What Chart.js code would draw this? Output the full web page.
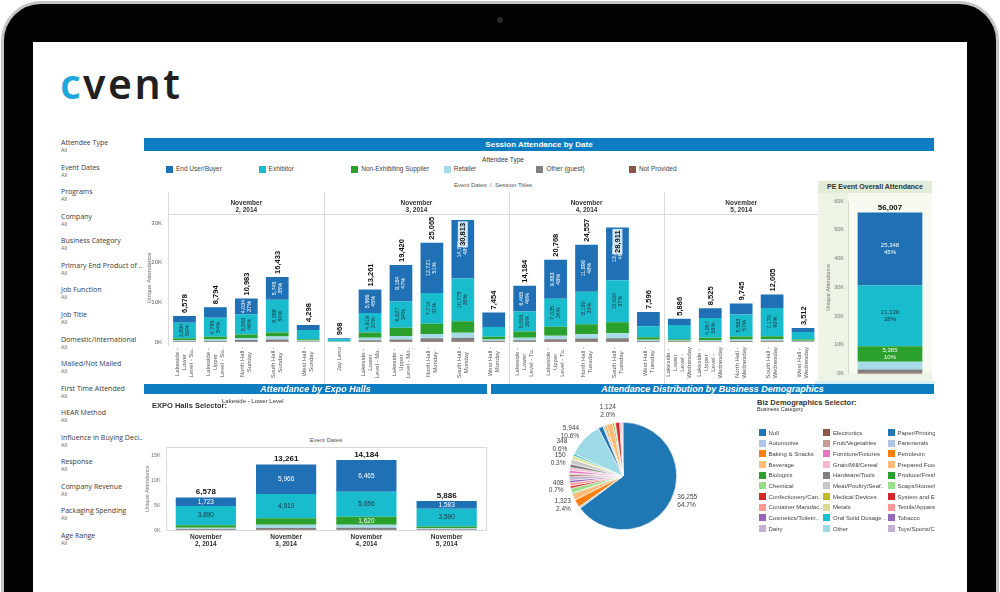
<!DOCTYPE html>
<html>
<head>
<meta charset="utf-8">
<title>Cvent attendance dashboard</title>
<script src="https://cdn.jsdelivr.net/npm/chart.js@4.4.1/dist/chart.umd.min.js"></script>
<style>
  html, body { margin:0; padding:0; background:#fff; }
  body { width:1000px; height:592px; overflow:hidden; position:relative; font-family:"Liberation Sans", Arial, sans-serif; }
  .a { position:absolute; }
  #device { left:1px; top:1px; width:992px; height:680px; background:#030303; border:3px solid #c6c6c6; border-radius:40px; }
  #screen { left:33px; top:42px; width:934px; height:560px; background:#fff; }
  #cam { left:497px; top:17px; width:6px; height:6px; border-radius:50%; background:#2a2a2a; }
  #logo { left:60px; top:63px; font:600 41px "Noto Sans", sans-serif; letter-spacing:2.5px; color:#231f20; line-height:41px; white-space:nowrap; }
  #logo span { color:#1ea7df; }
  .flt { left:61px; font-family:"Open Sans", sans-serif; color:#3a3a3a; white-space:nowrap; }
  .flt b { display:block; font-size:7px; font-weight:normal; line-height:8px; }
  .flt i { display:block; font-style:normal; font-size:5.5px; color:#666; line-height:6px; }
  .hdr { background:#0e7cc1; color:#fff; font-weight:bold; text-align:center; white-space:nowrap; }
  .txt { color:#333; white-space:nowrap; }
  .leg { font-size:6.5px; color:#444; line-height:8px; white-space:nowrap; }
  .leg s { position:absolute; left:0; top:0.5px; width:7px; height:7px; }
  .leg span { position:absolute; left:10px; top:0; }
  #pePanel { left:818px; top:181px; width:114px; height:200px; background:#edf4e6; }
  #peHead { left:818px; top:181px; width:114px; height:12px; background:#e2ecd6; font-size:7px; font-weight:bold; color:#333; text-align:center; line-height:12px; }
  #bizLegend { left:750px; top:420px; width:185px; height:130px; overflow:hidden; }
  .bl { position:absolute; font-size:6px; color:#444; line-height:8px; white-space:nowrap; }
  .bl s { position:absolute; left:0; top:0.5px; width:7px; height:7px; }
  .bl span { position:absolute; left:10px; top:0; }
</style>
</head>
<body>
<div id="device" class="a"></div>
<div id="cam" class="a"></div>
<div id="screen" class="a"></div>
<div id="logo" class="a"><span>c</span>vent</div>
<div id="filters"></div>

<div class="a hdr" style="left:144px;top:138px;width:790px;height:13px;font-size:8px;line-height:13px;">Session Attendance by Date</div>
<div class="a txt" style="left:453px;top:156px;width:100px;text-align:center;font-size:6.5px;">Attendee Type</div>
<div id="mainLegend"></div>
<div class="a txt" style="left:443px;top:182px;width:100px;text-align:center;font-size:6px;color:#555;">Event Dates&nbsp; /&nbsp; Session Titles</div>
<div class="a" style="left:140px;top:190px;width:680px;height:198px;"><canvas id="mainChart"></canvas></div>

<div id="pePanel" class="a"></div>
<div id="peHead" class="a">PE Event Overall Attendance</div>
<div class="a" style="left:818px;top:193px;width:114px;height:188px;"><canvas id="peChart"></canvas></div>
<div class="a" style="left:815px;top:381px;width:120px;height:3px;background:#d3f2f8;"></div>

<div class="a hdr" style="left:144px;top:384px;width:343px;height:10px;font-size:9px;line-height:10px;font-style:italic;">Attendance by Expo Halls</div>
<div class="a txt" style="left:152px;top:401px;font-size:7.5px;font-weight:bold;">EXPO Halls Selector:</div>
<div class="a txt" style="left:222px;top:398px;font-size:6px;">Lakeside - Lower Level</div>
<div class="a txt" style="left:276px;top:437px;width:100px;text-align:center;font-size:6px;color:#555;">Event Dates</div>
<div class="a" style="left:140px;top:436px;width:350px;height:115px;"><canvas id="expoChart"></canvas></div>

<div class="a hdr" style="left:491px;top:384px;width:443px;height:10px;font-size:9px;line-height:10px;font-style:italic;">Attendance Distribution by Business Demographics</div>
<div class="a" style="left:500px;top:400px;width:250px;height:152px;"><canvas id="pieChart"></canvas></div>
<div class="a txt" style="left:757px;top:398px;font-size:7.5px;font-weight:bold;">Biz Demographics Selector:</div>
<div class="a txt" style="left:757px;top:406px;font-size:5.5px;">Business Category</div>
<div id="bizLegend" class="a"></div>

<script>
// ---- data ----
const filterNames = ['Attendee Type', 'Event Dates', 'Programs', 'Company', 'Business Category',
  'Primary End Product of ..', 'Job Function', 'Job Title', 'Domestic/International', 'Mailed/Not Mailed',
  'First Time Attended', 'HEAR Method', 'Influence in Buying Deci..', 'Response', 'Company Revenue',
  'Packaging Spending', 'Age Range'];

const seriesNames = ['End User/Buyer', 'Exhibitor', 'Non-Exhibiting Supplier', 'Retailer', 'Other (guest)', 'Not Provided'];
const seriesColors = ['#1f70b5', '#19bccd', '#2ca02c', '#a8dbe9', '#7f7f7f', '#8c564b'];

const eventDates = [['November', '2, 2014'], ['November', '3, 2014'], ['November', '4, 2014'], ['November', '5, 2014']];
const sessionsPerDate = [5, 6, 5, 5];

const sessions = [
  ['Lakeside -', 'Lower', 'Level - Su..'], ['Lakeside -', 'Upper', 'Level - Su..'], ['North Hall -', 'Sunday'],
  ['South Hall -', 'Sunday'], ['West Hall -', 'Sunday'],
  ['Jay Leno'], ['Lakeside -', 'Lower', 'Level - Mo..'], ['Lakeside -', 'Upper', 'Level - Mo..'],
  ['North Hall -', 'Monday'], ['South Hall -', 'Monday'], ['West Hall -', 'Monday'],
  ['Lakeside -', 'Lower', 'Level - Tu..'], ['Lakeside -', 'Upper', 'Level - Tu..'], ['North Hall -', 'Tuesday'],
  ['South Hall -', 'Tuesday'], ['West Hall -', 'Tuesday'],
  ['Lakeside -', 'Lower', 'Level -', 'Wednesday'], ['Lakeside -', 'Upper', 'Level -', 'Wednesday'],
  ['North Hall -', 'Wednesday'], ['South Hall -', 'Wednesday'], ['West Hall -', 'Wednesday']
];

const endUser     = [1723, 2700, 4034, 5745, 1300, 300, 5966, 9184, 12721, 14790, 3700, 6465, 9883, 11896, 13300, 3600, 1583, 2500, 2800, 3400, 1000];
const exhibitor   = [3890, 4789, 5058, 8288, 2300, 550, 4919, 6627, 7714, 10775, 2400, 5056, 7035, 8180, 10630, 2800, 3590, 4957, 5583, 7170, 1900];
const nonExhib    = [500, 700, 900, 1000, 300, 60, 1300, 2100, 2600, 2900, 700, 1620, 2300, 2500, 2800, 650, 350, 550, 700, 700, 300];
const retailer    = [250, 350, 500, 750, 250, 40, 650, 900, 1100, 1300, 350, 600, 850, 1100, 1250, 300, 200, 300, 380, 400, 180];
const otherGuest  = [150, 200, 400, 550, 100, 15, 350, 500, 800, 900, 250, 380, 600, 750, 800, 200, 130, 180, 240, 290, 100];
const notProvided = [65, 55, 91, 100, 48, 3, 76, 109, 130, 148, 54, 63, 100, 131, 131, 46, 33, 38, 42, 45, 32];

// PE overall, same order as seriesNames
const peSeries = [25348, 21130, 5365, 2700, 1100, 364];

// Expo hall selector = Lakeside - Lower Level (one session per day)
const expoSessionIdx = [0, 6, 11, 16];

const mainTicks = [0, 10000, 20000, 30000];
const expoTicks = [0, 5000, 10000, 15000];

const bizCategories = ['Null', 'Automotive', 'Baking & Snacks', 'Beverage', 'Biologics', 'Chemical',
  'Confectionery/Can..', 'Container Manufac..', 'Cosmetics/Toiletri..', 'Dairy', 'Electronics',
  'Fruit/Vegetables', 'Furniture/Fixtures', 'Grain/Mill/Cereal', 'Hardware/Tools', 'Meat/Poultry/Seaf..',
  'Medical Devices', 'Metals', 'Oral Solid Dosage ..', 'Other', 'Paper/Printing', 'Parenterals',
  'Petroleum', 'Prepared Foods', 'Produce/Fresh Fruit', 'Soaps/Household', 'System and Equipment',
  'Textile/Apparel', 'Tobacco', 'Toys/Sports/Crafts'];
const bizValues = [36255, 300, 1323, 1100, 150, 800, 408, 500, 450, 600, 350, 250, 500, 450, 600, 800,
  150, 500, 348, 5944, 800, 300, 300, 1124, 250, 200, 700, 250, 150, 155];
const bizColors = ['#1f77b4', '#aec7e8', '#ff7f0e', '#ffbb78', '#2ca02c', '#98df8a', '#d62728', '#ff9896',
  '#9467bd', '#c5b0d5', '#8c564b', '#c49c94', '#e377c2', '#f7b6d2', '#7f7f7f', '#c7c7c7', '#bcbd22',
  '#dbdb8d', '#17becf', '#9edae5', '#1f77b4', '#aec7e8', '#ff7f0e', '#ffbb78', '#2ca02c', '#98df8a',
  '#d62728', '#ff9896', '#9467bd', '#c5b0d5'];
const bizLabeled = ['Null', 'Baking & Snacks', 'Confectionery/Can..', 'Medical Devices', 'Oral Solid Dosage ..', 'Other', 'Prepared Foods'];

// ---- helpers ----
const FONT = '"Liberation Sans", Arial, sans-serif';
Chart.defaults.font.family = FONT;
Chart.defaults.animation = false;
Chart.defaults.events = [];
Chart.defaults.plugins.legend.display = false;
Chart.defaults.plugins.tooltip.enabled = false;

const fmt = v => v.toLocaleString('en-US');
const kTick = v => (v / 1000) + 'K';
const stackOrder = [5, 4, 3, 2, 1, 0]; // bottom to top
const sessionSeries = [endUser, exhibitor, nonExhib, retailer, otherGuest, notProvided];
const sessionTotals = sessions.map((s, i) => sessionSeries.reduce((t, arr) => t + arr[i], 0));

// sidebar filters
let fHtml = '';
filterNames.forEach((n, i) => {
  fHtml += '<div class="a flt" style="top:' + (139.3 + i * 24.52).toFixed(1) + 'px"><b>' + n + '</b><i>All</i></div>';
});
document.getElementById('filters').innerHTML = fHtml;

// attendee type legend
let lHtml = '';
seriesNames.forEach((n, i) => {
  lHtml += '<div class="a leg" style="left:' + (166 + i * 92.6).toFixed(1) + 'px;top:165px"><s style="background:' +
    seriesColors[i] + '"></s><span>' + n + '</span></div>';
});
document.getElementById('mainLegend').innerHTML = lHtml;

// business category legend (column major, 10 rows)
let bHtml = '';
bizCategories.forEach((n, i) => {
  const col = Math.floor(i / 10), row = i % 10;
  bHtml += '<div class="bl" style="left:' + (8.5 + col * 64.5) + 'px;top:' + (8.5 + row * 10.67).toFixed(1) +
    'px"><s style="background:' + bizColors[i] + '"></s><span>' + n + '</span></div>';
});
document.getElementById('bizLegend').innerHTML = bHtml;

// ---- main chart plugins ----
const groupHeader = {
  id: 'groupHeader',
  afterDraw(chart) {
    const {ctx, chartArea: a, scales: {x}} = chart;
    const step = x.getPixelForValue(1) - x.getPixelForValue(0);
    ctx.save();
    ctx.strokeStyle = '#dadada';
    ctx.lineWidth = 1;
    ctx.beginPath();
    ctx.moveTo(a.left, a.top + 0.5); ctx.lineTo(a.right, a.top + 0.5);
    ctx.moveTo(Math.round(a.left) - 0.5, a.top - 22); ctx.lineTo(Math.round(a.left) - 0.5, a.bottom + 4);
    ctx.stroke();
    ctx.font = 'bold 6.5px ' + FONT;
    ctx.fillStyle = '#333';
    ctx.textAlign = 'center';
    ctx.textBaseline = 'middle';
    let start = 0;
    eventDates.forEach((d, gi) => {
      const x0 = x.getPixelForValue(start) - step / 2;
      const x1 = x.getPixelForValue(start + sessionsPerDate[gi] - 1) + step / 2;
      if (gi > 0) {
        ctx.beginPath();
        ctx.moveTo(Math.round(x0) + 0.5, a.top - 22);
        ctx.lineTo(Math.round(x0) + 0.5, chart.height - 2);
        ctx.stroke();
      }
      ctx.fillText(d[0], (x0 + x1) / 2, a.top - 11);
      ctx.fillText(d[1], (x0 + x1) / 2, a.top - 3.5);
      start += sessionsPerDate[gi];
    });
    ctx.restore();
  }
};

const sessionXLabels = {
  id: 'sessionXLabels',
  afterDraw(chart) {
    const {ctx, chartArea: a, scales: {x}} = chart;
    ctx.save();
    ctx.font = '6px ' + FONT;
    ctx.fillStyle = '#555';
    ctx.textAlign = 'center';
    ctx.textBaseline = 'middle';
    chart.data.labels.forEach((lab, i) => {
      const lines = [].concat(lab);
      const w = Math.max(...lines.map(l => ctx.measureText(l).width));
      const px = x.getPixelForValue(i);
      lines.forEach((ln, k) => {
        ctx.save();
        ctx.translate(px + (k - (lines.length - 1) / 2) * 7, a.bottom + 5 + w / 2);
        ctx.rotate(-Math.PI / 2);
        ctx.fillText(ln, 0, 0);
        ctx.restore();
      });
    });
    ctx.restore();
  }
};

const sessionLabels = {
  id: 'sessionLabels',
  afterDatasetsDraw(chart) {
    const {ctx, chartArea: a} = chart;
    ctx.save();
    chart.data.datasets.forEach((ds, di) => {
      if (ds.seriesIndex > 1) return;
      chart.getDatasetMeta(di).data.forEach((bar, i) => {
        const v = ds.data[i];
        if (v < 3750) return;
        ctx.save();
        ctx.translate(bar.x, (bar.y + bar.base) / 2);
        ctx.rotate(-Math.PI / 2);
        ctx.font = '5.5px ' + FONT;
        ctx.fillStyle = ds.seriesIndex === 0 ? '#fff' : '#17343b';
        ctx.textAlign = 'center';
        ctx.textBaseline = 'middle';
        ctx.fillText(fmt(v), 0, -3);
        ctx.fillText(Math.round(v / sessionTotals[i] * 100) + '%', 0, 3);
        ctx.restore();
      });
    });
    const topIdx = chart.data.datasets.length - 1;
    chart.getDatasetMeta(topIdx).data.forEach((bar, i) => {
      const txt = fmt(sessionTotals[i]);
      ctx.font = 'bold 7.5px ' + FONT;
      const w = ctx.measureText(txt).width;
      let start = bar.y - 3;
      let inside = false;
      if (start - w < a.top - 2) { start = bar.y + 3 + w; inside = true; }
      ctx.save();
      ctx.translate(bar.x, start);
      ctx.rotate(-Math.PI / 2);
      if (inside) {
        ctx.fillStyle = 'rgba(228,242,250,0.9)';
        ctx.fillRect(-1.5, -5, w + 3, 10);
      }
      ctx.fillStyle = '#111';
      ctx.textAlign = 'left';
      ctx.textBaseline = 'middle';
      ctx.fillText(txt, 0, 0.5);
      ctx.restore();
    });
    ctx.restore();
  }
};

new Chart(document.getElementById('mainChart'), {
  type: 'bar',
  data: {
    labels: sessions,
    datasets: stackOrder.map(k => ({
      label: seriesNames[k],
      data: sessionSeries[k],
      seriesIndex: k,
      backgroundColor: seriesColors[k],
      borderWidth: 0,
      barPercentage: 0.735,
      categoryPercentage: 1
    }))
  },
  options: {
    responsive: true,
    maintainAspectRatio: false,
    layout: { padding: { top: 24, right: 1.5, left: 0, bottom: 0 } },
    scales: {
      x: {
        stacked: true,
        grid: { display: false, drawTicks: false },
        border: { display: false },
        ticks: { display: false },
        afterFit: s => { s.height = 46; }
      },
      y: {
        stacked: true,
        min: 0,
        max: 32300,
        afterBuildTicks: s => { s.ticks = mainTicks.map(v => ({ value: v })); },
        grid: { display: false, drawTicks: false },
        border: { display: false },
        ticks: { font: { size: 6 }, color: '#666', padding: 7, callback: kTick },
        title: { display: true, text: 'Unique Attendance', font: { size: 6 }, color: '#666', padding: { top: 6, bottom: 0 } },
        afterFit: s => { s.width = 29; }
      }
    }
  },
  plugins: [groupHeader, sessionLabels, sessionXLabels]
});

// ---- PE overall chart ----
const peTotal = peSeries.reduce((a, b) => a + b, 0);
const peLabels = {
  id: 'peLabels',
  beforeDraw(chart) {
    const {ctx, chartArea: a} = chart;
    ctx.save();
    ctx.fillStyle = '#f6faf1';
    ctx.fillRect(a.left, a.top - 8, a.right - a.left, a.bottom - a.top + 8);
    ctx.restore();
  },
  afterDatasetsDraw(chart) {
    const {ctx} = chart;
    ctx.save();
    ctx.textAlign = 'center';
    ctx.textBaseline = 'middle';
    chart.data.datasets.forEach((ds, di) => {
      const bar = chart.getDatasetMeta(di).data[0];
      const v = ds.data[0];
      if (v < 5000) return;
      const cy = (bar.y + bar.base) / 2;
      ctx.font = '6px ' + FONT;
      ctx.fillStyle = ds.seriesIndex === 1 ? '#17343b' : '#fff';
      ctx.fillText(fmt(v), bar.x, cy - 3.5);
      ctx.fillText(Math.round(v / peTotal * 100) + '%', bar.x, cy + 3.5);
    });
    const top = chart.getDatasetMeta(chart.data.datasets.length - 1).data[0];
    ctx.font = 'bold 8px ' + FONT;
    ctx.fillStyle = '#111';
    ctx.fillText(fmt(peTotal), top.x, top.y - 5);
    ctx.restore();
  }
};

new Chart(document.getElementById('peChart'), {
  type: 'bar',
  data: {
    labels: ['PE Event'],
    datasets: stackOrder.map(k => ({
      label: seriesNames[k],
      data: [peSeries[k]],
      seriesIndex: k,
      backgroundColor: seriesColors[k],
      borderWidth: 0,
      barPercentage: 0.77,
      categoryPercentage: 1
    }))
  },
  options: {
    responsive: true,
    maintainAspectRatio: false,
    layout: { padding: { top: 8, right: 0, left: 0, bottom: 4.3 } },
    scales: {
      x: { stacked: true, display: false },
      y: {
        stacked: true,
        min: 0,
        max: 60000,
        ticks: { stepSize: 10000, font: { size: 5.5 }, color: '#777', padding: 4, callback: kTick },
        grid: { display: false, drawTicks: false },
        border: { display: true, color: '#d3dcc8' },
        title: { display: true, text: 'Unique Attendance', font: { size: 5.5 }, color: '#777', padding: { top: 7, bottom: 0 } },
        afterFit: s => { s.width = 30; }
      }
    }
  },
  plugins: [peLabels]
});

// ---- Expo halls chart ----
const expoTotals = expoSessionIdx.map(i => sessionTotals[i]);
const expoLabels = {
  id: 'expoLabels',
  afterDatasetsDraw(chart) {
    const {ctx, chartArea: a} = chart;
    ctx.save();
    ctx.strokeStyle = '#d9d9d9';
    ctx.lineWidth = 1;
    ctx.strokeRect(Math.round(a.left) + 0.5, Math.round(a.top) + 0.5, Math.round(a.right - a.left) - 1, Math.round(a.bottom - a.top));
    ctx.textAlign = 'center';
    ctx.textBaseline = 'middle';
    chart.data.datasets.forEach((ds, di) => {
      chart.getDatasetMeta(di).data.forEach((bar, i) => {
        const v = ds.data[i];
        if (v < 1500) return;
        ctx.font = '6.5px ' + FONT;
        ctx.fillStyle = ds.seriesIndex === 1 ? '#17343b' : '#fff';
        ctx.fillText(fmt(v), bar.x, (bar.y + bar.base) / 2);
      });
    });
    chart.getDatasetMeta(chart.data.datasets.length - 1).data.forEach((bar, i) => {
      ctx.font = 'bold 8px ' + FONT;
      ctx.fillStyle = '#111';
      ctx.fillText(fmt(expoTotals[i]), bar.x, bar.y - 5.5);
    });
    ctx.restore();
  }
};

new Chart(document.getElementById('expoChart'), {
  type: 'bar',
  data: {
    labels: eventDates,
    datasets: stackOrder.map(k => ({
      label: seriesNames[k],
      data: expoSessionIdx.map(i => sessionSeries[k][i]),
      seriesIndex: k,
      backgroundColor: seriesColors[k],
      borderWidth: 0,
      barPercentage: 0.75,
      categoryPercentage: 1
    }))
  },
  options: {
    responsive: true,
    maintainAspectRatio: false,
    layout: { padding: { top: 11, right: 3.2, left: 0, bottom: 3 } },
    scales: {
      x: {
        stacked: true,
        grid: { display: false, drawTicks: false },
        border: { display: false },
        ticks: { font: { size: 6.5, weight: 'bold' }, color: '#333', padding: 3, maxRotation: 0 },
        afterFit: s => { s.height = 18; }
      },
      y: {
        stacked: true,
        min: 0,
        max: 16800,
        afterBuildTicks: s => { s.ticks = expoTicks.map(v => ({ value: v })); },
        grid: { display: false, drawTicks: false },
        border: { display: false },
        ticks: { font: { size: 5.5 }, color: '#777', padding: 5, callback: kTick },
        title: { display: true, text: 'Unique Attendance', font: { size: 5.5 }, color: '#777', padding: { top: 4, bottom: 0 } },
        afterFit: s => { s.width = 25.7; }
      }
    }
  },
  plugins: [expoLabels]
});

// ---- Business demographics pie ----
const bizTotal = bizValues.reduce((a, b) => a + b, 0);
const pieLabels = {
  id: 'pieLabels',
  afterDatasetsDraw(chart) {
    const {ctx} = chart;
    const arcs = chart.getDatasetMeta(0).data;
    const items = [];
    bizLabeled.forEach(name => {
      const i = bizCategories.indexOf(name);
      const p = arcs[i].getProps(['x', 'y', 'startAngle', 'endAngle', 'outerRadius'], true);
      const mid = (p.startAngle + p.endAngle) / 2;
      const r = p.outerRadius + 7;
      const px = p.x + Math.cos(mid) * r;
      const py = p.y + Math.sin(mid) * r;
      const c = Math.cos(mid);
      const align = c > 0.35 ? 'left' : (c < -0.35 ? 'right' : 'center');
      let cy = py - 2;
      if (align === 'center') cy = Math.sin(mid) < 0 ? py - 6 : py + 6;
      items.push({ v: bizValues[i], px, cy, align });
    });
    const left = items.filter(d => d.align === 'right').sort((m, n) => m.cy - n.cy);
    for (let k = 1; k < left.length; k++) {
      const gap = left[k].cy - left[k - 1].cy;
      if (gap < 14) { const d = (14 - gap) / 2; left[k - 1].cy -= d; left[k].cy += d; }
    }
    ctx.save();
    ctx.font = '6.5px ' + FONT;
    ctx.fillStyle = '#444';
    ctx.textBaseline = 'middle';
    items.forEach(d => {
      ctx.textAlign = d.align;
      ctx.fillText(fmt(d.v), d.px, d.cy - 3.8);
      ctx.fillText((d.v / bizTotal * 100).toFixed(1) + '%', d.px, d.cy + 3.8);
    });
    ctx.restore();
  }
};

new Chart(document.getElementById('pieChart'), {
  type: 'pie',
  data: {
    labels: bizCategories,
    datasets: [{
      data: bizValues,
      backgroundColor: bizColors,
      borderColor: '#fff',
      borderWidth: 0.6,
      hoverOffset: 0
    }]
  },
  options: {
    responsive: true,
    maintainAspectRatio: false,
    layout: { padding: { left: 69, right: 73, top: 22, bottom: 22 } }
  },
  plugins: [pieLabels]
});
</script>
</body>
</html>
